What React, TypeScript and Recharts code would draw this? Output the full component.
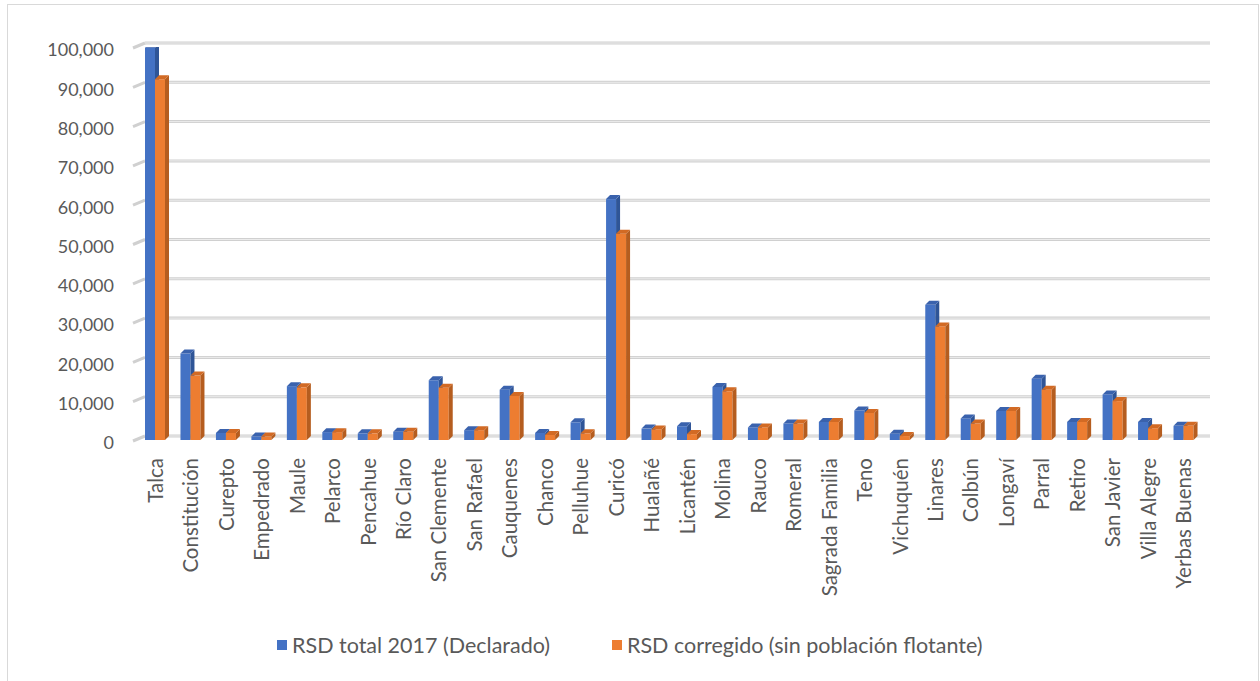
import { BarChart, Bar, XAxis, YAxis, CartesianGrid } from 'recharts';

const comunas = [
  'Talca', 'Constitución', 'Curepto', 'Empedrado', 'Maule', 'Pelarco', 'Pencahue', 'Río Claro',
  'San Clemente', 'San Rafael', 'Cauquenes', 'Chanco', 'Pelluhue', 'Curicó', 'Hualañé', 'Licantén',
  'Molina', 'Rauco', 'Romeral', 'Sagrada Familia', 'Teno', 'Vichuquén', 'Linares', 'Colbún',
  'Longaví', 'Parral', 'Retiro', 'San Javier', 'Villa Alegre', 'Yerbas Buenas',
];

const rsdTotal = [
  99800, 22000, 1800, 900, 13700, 2000, 1700, 2100,
  15200, 2500, 12800, 1800, 4500, 61300, 2900, 3500,
  13500, 3200, 4200, 4600, 7500, 1600, 34400, 5500,
  7400, 15600, 4600, 11600, 4600, 3600,
];

const rsdCorregido = [
  91800, 16400, 1800, 900, 13400, 2000, 1700, 2100,
  13300, 2500, 11200, 1300, 1700, 52500, 2700, 1500,
  12400, 3200, 4200, 4600, 6900, 1000, 28900, 4200,
  7400, 12800, 4600, 9900, 3000, 3600,
];

const yTicks = [0, 10000, 20000, 30000, 40000, 50000, 60000, 70000, 80000, 90000, 100000];

const seriesNames = ['RSD total 2017 (Declarado)', 'RSD corregido (sin población flotante)'];

const data = comunas.map((c, i) => ({ name: c, total: rsdTotal[i], corregido: rsdCorregido[i] }));

const DEPTH = 4;

function make3D(front: string, side: string, top: string) {
  return (props: any) => {
    const { x, y, width, height } = props;
    if (height == null || width == null) return null;
    const d = DEPTH;
    return (
      <g>
        <rect x={x} y={y} width={width} height={height} fill={front} />
        <polygon
          points={`${x + width},${y} ${x + width + d},${y - d} ${x + width + d},${y + height - d} ${x + width},${y + height}`}
          fill={side}
        />
        <polygon
          points={`${x},${y} ${x + d},${y - d} ${x + width + d},${y - d} ${x + width},${y}`}
          fill={top}
        />
      </g>
    );
  };
}

const blueShape = make3D('#4472c4', '#2f5597', '#3a62ad');
const orangeShape = make3D('#ed7d31', '#b55d1f', '#d26a24');

const gridLine = (props: any) => {
  const { y1, x1, x2, key } = props;
  const y = y1;
  return (
    <g key={key}>
      <line x1={x1 + 8} y1={y - 4} x2={x2 + 9} y2={y - 4} stroke="#d0d0d0" strokeWidth={3} />
      <line x1={x1 - 4} y1={y + 1} x2={x1 + 8} y2={y - 4} stroke="#d0d0d0" strokeWidth={3} />
      <line x1={x1 + 8} y1={y - 4} x2={x2 + 9} y2={y - 4} stroke="#ececec" strokeWidth={1} />
    </g>
  );
};

const CatTick = (props: any) => {
  const { x, y, payload } = props;
  return (
    <text
      x={x}
      y={y}
      transform={`rotate(-90 ${x} ${y})`}
      textAnchor="end"
      dominantBaseline="central"
      fill="#595959"
      fontSize={20.5}
      dx={-10}
    >
      {payload.value}
    </text>
  );
};

export default function App() {
  return (
    <div style={{ position: 'absolute', left: 0, top: 0, width: 1260, height: 681, overflow: 'hidden', background: '#fff', fontFamily: 'Lato' }}>
      <div style={{ position: 'absolute', left: 7, top: 4, width: 1250, height: 700, border: '1px solid #d9d9d9' }} />
      <div style={{ position: 'absolute', left: 0, top: 0 }}>
        <BarChart
          width={1260}
          height={681}
          data={data}
          margin={{ top: 47, right: 59, bottom: 41, left: 0 }}
          barGap={0}
          barSize={10}
        >
          <CartesianGrid vertical={false} horizontal={gridLine} />
          <XAxis dataKey="name" interval={0} height={200} axisLine={false} tickLine={false} tick={<CatTick />} />
          <YAxis
            width={137}
            domain={[0, 100000]}
            ticks={yTicks}
            allowDataOverflow
            axisLine={false}
            tickLine={false}
            tickFormatter={(v: number) => v.toLocaleString('en-US')}
            tick={{ fill: '#595959', fontSize: 18, dx: -15, dy: 3 }}
          />
          <Bar dataKey="total" name={seriesNames[0]} fill="#4472c4" shape={blueShape} isAnimationActive={false} />
          <Bar dataKey="corregido" name={seriesNames[1]} fill="#ed7d31" shape={orangeShape} isAnimationActive={false} />
        </BarChart>
      </div>
      <div style={{ position: 'absolute', left: 277, top: 632, display: 'flex', alignItems: 'center', fontSize: 21.5, color: '#595959', whiteSpace: 'nowrap' }}>
        <span style={{ width: 10, height: 10, background: '#4472c4', marginRight: 5 }} />
        <span style={{ marginRight: 62 }}>{seriesNames[0]}</span>
        <span style={{ width: 10, height: 10, background: '#ed7d31', marginRight: 5 }} />
        <span>{seriesNames[1]}</span>
      </div>
    </div>
  );
}
